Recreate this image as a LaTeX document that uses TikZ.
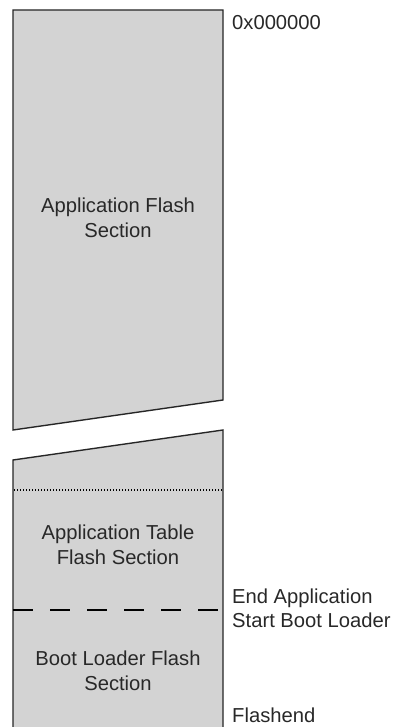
\documentclass[tikz,border=0pt]{standalone}
\usepackage{fontspec}
\setmainfont{Liberation Sans}
\definecolor{memfill}{RGB}{211,211,211}
\definecolor{txt}{RGB}{40,40,40}
\tikzset{
  memblock/.style={fill=memfill, draw=black!85, line width=1.4pt, line join=miter},
  lbl/.style={font=\fontsize{20.2}{24.5}\selectfont, text=txt, inner sep=0pt},
  sectlbl/.style={lbl, align=center},
  addrlbl/.style={lbl, anchor=base west},
}
\begin{document}
\begin{tikzpicture}[x=1pt,y=-1pt]
\useasboundingbox (0,0) rectangle (397,727);
\clip (0,0) rectangle (397,727);
% upper part
\draw[memblock] (13,10) coordinate (ul) -- (223,10) coordinate (ur) -- (223,400) -- (13,430) -- cycle;
% lower part
\fill[memfill] (13,460) -- (223,430) -- (223,740) -- (13,740) -- cycle;
\draw[memblock, fill=none] (13,740) -- (13,460) -- (223,430) -- (223,740);
\draw[black, line width=1.3pt, dash pattern=on 1.4pt off 1.6pt] (14,490) -- (222,490);
\draw[black, line width=1.2pt, dash pattern=on 20pt off 17pt] (13,610) -- (223,610);
% section labels
\node[sectlbl] (app) at (118,218) {Application Flash\\Section};
\node[sectlbl] (apt) at (118,545) {Application Table\\Flash Section};
\node[sectlbl] (boot) at (118,671) {Boot Loader Flash\\Section};
% address labels
\node[addrlbl] (a0) at (232,30) {0x000000};
\node[addrlbl] (ea) at (232,603) {End Application};
\node[addrlbl] (sb) at (232,627) {Start Boot Loader};
\node[addrlbl] (fe) at (232,722) {Flashend};
\end{tikzpicture}
\end{document}
